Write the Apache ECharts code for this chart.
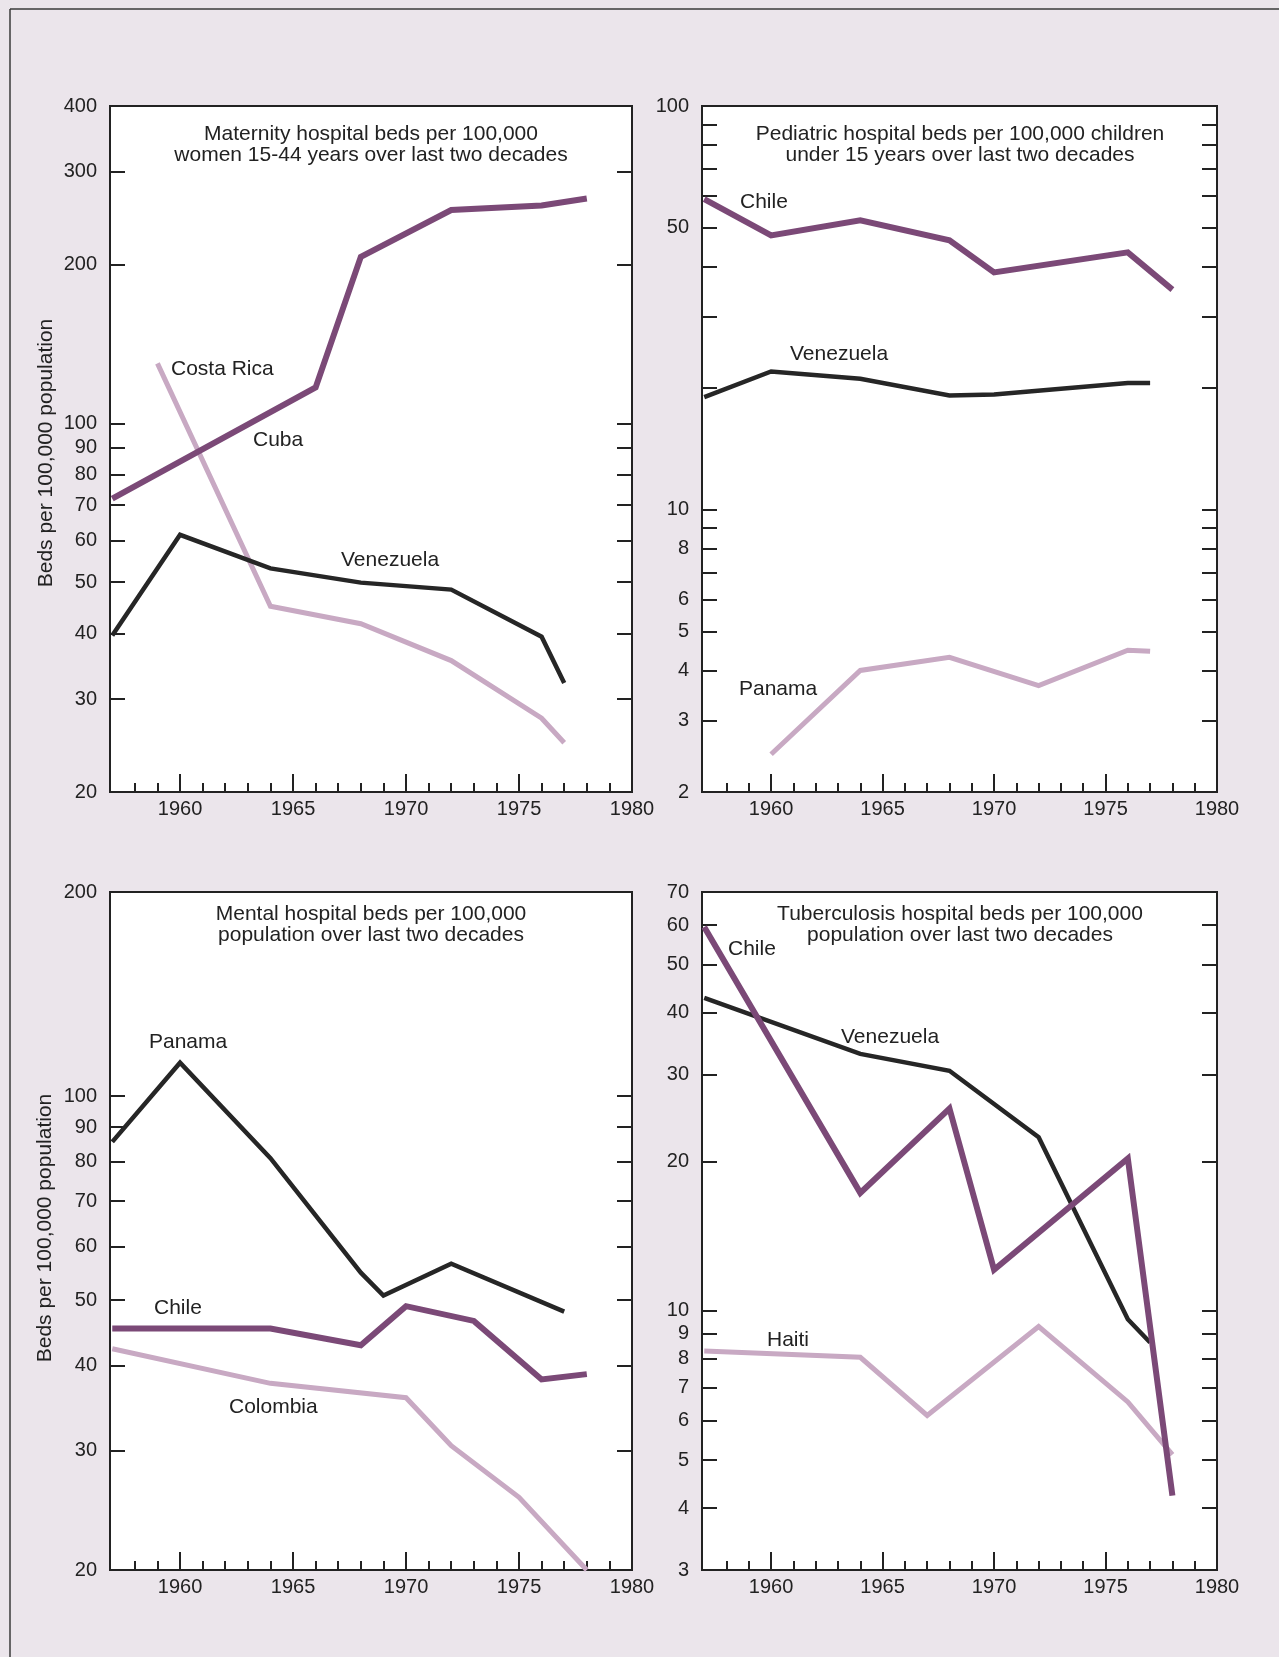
<!DOCTYPE html>
<html><head><meta charset="utf-8">
<script src="https://cdn.jsdelivr.net/npm/echarts@6/dist/echarts.min.js"></script>
<style>html,body{margin:0;padding:0;background:#ebe5eb;}#c{width:1279px;height:1657px;}</style>
</head><body><div id="c"></div>
<script>
// ---------- DATA ----------
// Maternity hospital beds per 100,000 women 15-44
const cubaMatYears = [1957, 1966, 1968, 1972, 1976, 1978];
const cubaMatVals  = [72, 117, 207, 254, 259, 267];
const costaRicaMatYears = [1959, 1964, 1968, 1972, 1976, 1977];
const costaRicaMatVals  = [130, 45, 41.7, 35.5, 27.6, 24.8];
const venezuelaMatYears = [1957, 1960, 1964, 1968, 1972, 1976, 1977];
const venezuelaMatVals  = [39.6, 61.5, 53.1, 49.9, 48.4, 39.4, 32.2];

// Pediatric hospital beds per 100,000 children under 15
const chilePedYears = [1957, 1960, 1964, 1968, 1970, 1976, 1978];
const chilePedVals  = [58.8, 47.8, 52.1, 46.5, 38.7, 43.4, 35.1];
const venezuelaPedYears = [1957, 1960, 1964, 1968, 1970, 1976, 1977];
const venezuelaPedVals  = [19.0, 22.0, 21.1, 19.2, 19.3, 20.6, 20.6];
const panamaPedYears = [1960, 1964, 1968, 1972, 1976, 1977];
const panamaPedVals  = [2.48, 4.0, 4.31, 3.67, 4.49, 4.46];

// Mental hospital beds per 100,000 population
const panamaMenYears = [1957, 1960, 1964, 1968, 1969, 1972, 1977];
const panamaMenVals  = [85.6, 112, 81, 54.9, 50.8, 56.6, 48.1];
const chileMenYears = [1957, 1964, 1968, 1970, 1973, 1976, 1978];
const chileMenVals  = [45.4, 45.4, 42.9, 49, 46.6, 38.2, 38.9];
const colombiaMenYears = [1957, 1964, 1970, 1972, 1975, 1978];
const colombiaMenVals  = [42.4, 37.7, 35.9, 30.5, 25.6, 20];

// Tuberculosis hospital beds per 100,000 population
const chileTbYears = [1957, 1964, 1968, 1970, 1976, 1978];
const chileTbVals  = [59.5, 17.3, 25.6, 12.1, 20.3, 4.24];
const venezuelaTbYears = [1957, 1964, 1968, 1972, 1976, 1977];
const venezuelaTbVals  = [42.8, 33.0, 30.5, 22.4, 9.62, 8.63];
const haitiTbYears = [1957, 1964, 1967, 1972, 1976, 1978];
const haitiTbVals  = [8.3, 8.06, 6.15, 9.3, 6.55, 5.13];

// Tick labels
const yearLabels = [1960, 1965, 1970, 1975, 1980];
const majorYearTicks = [1960, 1965, 1970, 1975];
const minorYearTicks = [1958, 1959, 1961, 1962, 1963, 1964, 1966, 1967, 1968, 1969, 1971, 1972, 1973, 1974, 1976, 1977, 1978, 1979];
const matLabels = [20, 30, 40, 50, 60, 70, 80, 90, 100, 200, 300, 400];
const matTicks  = [30, 40, 50, 60, 70, 80, 90, 100, 200, 300];
const pedLabels = [2, 3, 4, 5, 6, 8, 10, 50, 100];
const pedTicks  = [3, 4, 5, 6, 7, 8, 9, 10, 20, 30, 40, 50, 60, 70, 80, 90];
const menLabels = [20, 30, 40, 50, 60, 70, 80, 90, 100, 200];
const menTicks  = [30, 40, 50, 60, 70, 80, 90, 100];
const tbLabels = [3, 4, 5, 6, 7, 8, 9, 10, 20, 30, 40, 50, 60, 70];
const tbTicks  = [4, 5, 6, 7, 8, 9, 10, 20, 30, 40, 50, 60];

const panelTitles = [
  'Maternity hospital beds per 100,000\nwomen 15-44 years over last two decades',
  'Pediatric hospital beds per 100,000 children\nunder 15 years over last two decades',
  'Mental hospital beds per 100,000\npopulation over last two decades',
  'Tuberculosis hospital beds per 100,000\npopulation over last two decades'
];
const yAxisTitle = 'Beds per 100,000 population';

// ---------- STYLE / LAYOUT ----------
const FONT = '"Liberation Sans", Arial, Helvetica, sans-serif';
const FS = 20;     // tick labels
const TFS = 21;    // titles and series labels
const INK = '#222';
const PURPLE = '#7b4977';
const DARK = '#262626';
const LIGHT = '#c8a9c3';

const grids = [
  {left: 110, top: 106, width: 522, height: 686},
  {left: 702, top: 106, width: 515, height: 686},
  {left: 110, top: 892, width: 522, height: 678},
  {left: 702, top: 892, width: 515, height: 678}
];
const yRanges = [[20, 400], [2, 100], [20, 200], [3, 70]];
const yLabelSets = [matLabels, pedLabels, menLabels, tbLabels];
const yTickSets = [matTicks, pedTicks, menTicks, tbTicks];
const X_MIN = 1956.9, X_MAX = 1980;

const plain = v => String(Math.round(v * 100) / 100);

const xAxes = [], yAxes = [];
grids.forEach((g, i) => {
  xAxes.push({
    type: 'value', gridIndex: i, min: X_MIN, max: X_MAX, position: 'bottom',
    axisLine: {show: true, onZero: false, lineStyle: {color: INK, width: 2}},
    axisTick: {show: true, inside: true, length: 9, customValues: minorYearTicks, lineStyle: {color: INK, width: 2}},
    axisLabel: {show: true, customValues: yearLabels, formatter: plain, margin: 7, fontSize: FS, color: INK, fontFamily: FONT},
    splitLine: {show: false}
  });
  xAxes.push({
    type: 'value', gridIndex: i, min: X_MIN, max: X_MAX, position: 'bottom',
    axisLine: {show: false},
    axisTick: {show: true, inside: true, length: 18, customValues: majorYearTicks, lineStyle: {color: INK, width: 2}},
    axisLabel: {show: false},
    splitLine: {show: false}
  });
  yAxes.push({
    type: 'log', logBase: 10, gridIndex: i, min: yRanges[i][0], max: yRanges[i][1], position: 'left',
    axisLine: {show: true, onZero: false, lineStyle: {color: INK, width: 2}},
    axisTick: {show: true, inside: true, length: 15, customValues: yTickSets[i], lineStyle: {color: INK, width: 2}},
    axisLabel: {show: true, customValues: yLabelSets[i], formatter: plain, margin: 13, fontSize: FS, color: INK, fontFamily: FONT},
    splitLine: {show: false}
  });
  yAxes.push({
    type: 'log', logBase: 10, gridIndex: i, min: yRanges[i][0], max: yRanges[i][1], position: 'right',
    axisLine: {show: true, onZero: false, lineStyle: {color: INK, width: 2}},
    axisTick: {show: true, inside: true, length: 15, customValues: yTickSets[i], lineStyle: {color: INK, width: 2}},
    axisLabel: {show: false},
    splitLine: {show: false}
  });
});

function pairs(xs, ys) { return xs.map((x, k) => [x, ys[k]]); }
function line(name, panel, xs, ys, color, width, z) {
  return {
    type: 'line', name: name, xAxisIndex: panel * 2, yAxisIndex: panel * 2,
    data: pairs(xs, ys), symbol: 'none', showSymbol: false, silent: true,
    lineStyle: {color: color, width: width, join: 'miter'}, z: z, animation: false
  };
}

const series = [
  line('Costa Rica', 0, costaRicaMatYears, costaRicaMatVals, LIGHT, 5, 2),
  line('Venezuela', 0, venezuelaMatYears, venezuelaMatVals, DARK, 4.5, 3),
  line('Cuba', 0, cubaMatYears, cubaMatVals, PURPLE, 6, 4),
  line('Panama', 1, panamaPedYears, panamaPedVals, LIGHT, 5, 2),
  line('Venezuela', 1, venezuelaPedYears, venezuelaPedVals, DARK, 4.5, 3),
  line('Chile', 1, chilePedYears, chilePedVals, PURPLE, 6, 4),
  line('Colombia', 2, colombiaMenYears, colombiaMenVals, LIGHT, 5, 2),
  line('Panama', 2, panamaMenYears, panamaMenVals, DARK, 4.5, 3),
  line('Chile', 2, chileMenYears, chileMenVals, PURPLE, 6, 4),
  line('Haiti', 3, haitiTbYears, haitiTbVals, LIGHT, 5, 2),
  line('Venezuela', 3, venezuelaTbYears, venezuelaTbVals, DARK, 4.5, 3),
  line('Chile', 3, chileTbYears, chileTbVals, PURPLE, 6, 4)
];

// text helpers (layout only)
function txt(text, x, y, align, opts) {
  return Object.assign({
    type: 'text', x: x, y: y, z: 100, silent: true,
    style: {text: text, fill: INK, font: TFS + 'px ' + FONT, align: align || 'left', verticalAlign: 'middle', lineHeight: 21}
  }, opts || {});
}
const graphics = [
  {type: 'line', z: 100, shape: {x1: 10, y1: 9, x2: 1279, y2: 9}, style: {stroke: '#3a3a3a', lineWidth: 1.5}},
  {type: 'line', z: 100, shape: {x1: 10, y1: 9, x2: 10, y2: 1657}, style: {stroke: '#3a3a3a', lineWidth: 1.5}},
  // panel titles
  txt(panelTitles[0], 371, 145, 'center'),
  txt(panelTitles[1], 960, 145, 'center'),
  txt(panelTitles[2], 371, 925, 'center'),
  txt(panelTitles[3], 960, 925, 'center'),
  // y axis titles
  txt(yAxisTitle, 46, 453, 'center', {rotation: Math.PI / 2}),
  txt(yAxisTitle, 45, 1228, 'center', {rotation: Math.PI / 2}),
  // series labels
  txt('Costa Rica', 171, 369), txt('Cuba', 253, 440), txt('Venezuela', 341, 560),
  txt('Chile', 740, 202), txt('Venezuela', 790, 354), txt('Panama', 739, 689),
  txt('Panama', 149, 1042), txt('Chile', 154, 1308), txt('Colombia', 229, 1407),
  txt('Chile', 728, 949), txt('Venezuela', 841, 1037), txt('Haiti', 767, 1340)
];

const chart = echarts.init(document.getElementById('c'), null, {renderer: 'canvas', width: 1279, height: 1657});
chart.setOption({
  animation: false,
  backgroundColor: '#ebe5eb',
  grid: grids.map(g => Object.assign({show: true, backgroundColor: '#ffffff', borderColor: INK, borderWidth: 2, containLabel: false}, g)),
  xAxis: xAxes,
  yAxis: yAxes,
  series: series,
  graphic: graphics
});
</script>
</body></html>
